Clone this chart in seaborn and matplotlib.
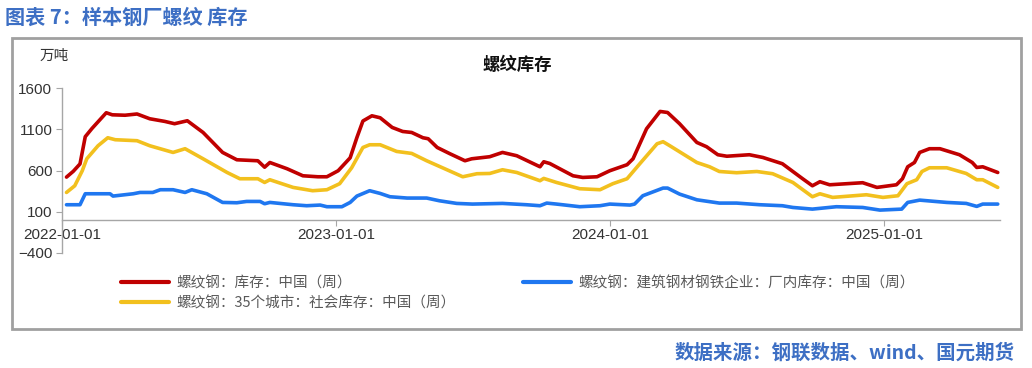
import pandas as pd
import seaborn as sns
import matplotlib.pyplot as plt
import matplotlib.dates as mdates
from matplotlib.patches import Rectangle

# 螺纹钢：库存：中国（周）
total_dates = ["2022-01-07", "2022-01-16", "2022-01-25", "2022-02-01", "2022-02-10", "2022-03-01",
               "2022-03-09", "2022-03-26", "2022-04-11", "2022-04-28", "2022-05-18", "2022-05-31",
               "2022-06-17", "2022-07-08", "2022-07-21", "2022-08-03", "2022-08-22", "2022-09-19",
               "2022-09-28", "2022-10-05", "2022-10-28", "2022-11-18", "2022-12-08", "2022-12-20",
               "2023-01-04", "2023-01-20", "2023-01-29", "2023-02-06", "2023-02-18", "2023-03-01",
               "2023-03-17", "2023-03-31", "2023-04-12", "2023-04-27", "2023-05-04", "2023-05-16",
               "2023-06-02", "2023-06-22", "2023-07-01", "2023-07-25", "2023-08-11", "2023-08-30",
               "2023-09-30", "2023-10-05", "2023-10-13", "2023-11-13", "2023-11-26", "2023-12-15",
               "2024-01-01", "2024-01-24", "2024-02-01", "2024-02-19", "2024-03-08", "2024-03-18",
               "2024-04-03", "2024-04-26", "2024-05-09", "2024-05-24", "2024-06-05", "2024-07-05",
               "2024-07-23", "2024-08-18", "2024-09-14", "2024-09-27", "2024-10-07", "2024-10-20",
               "2024-12-03", "2024-12-22", "2025-01-17", "2025-01-25", "2025-02-01", "2025-02-10",
               "2025-02-17", "2025-03-02", "2025-03-16", "2025-04-11", "2025-04-28", "2025-05-04",
               "2025-05-12", "2025-06-01"]
total_vals = [520, 590, 680, 1010, 1110, 1300, 1275, 1270, 1285, 1227, 1195, 1167,
              1203, 1061, 940, 819, 730, 718, 640, 697, 621, 536, 524, 524,
              597, 754, 1000, 1200, 1263, 1239, 1122, 1073, 1061, 997, 985, 879,
              803, 718, 742, 767, 819, 779, 645, 706, 685, 536, 516, 524,
              597, 670, 742, 1106, 1316, 1303, 1167, 940, 888, 791, 773, 791,
              758, 682, 500, 415, 464, 427, 452, 395, 427, 500, 645, 697,
              819, 864, 864, 791, 697, 637, 645, 576]

# 螺纹钢：建筑钢材钢铁企业：厂内库存：中国（周）
mill_dates = ["2022-01-07", "2022-01-25", "2022-02-01", "2022-03-06", "2022-03-10", "2022-04-06",
              "2022-04-15", "2022-05-02", "2022-05-12", "2022-05-29", "2022-06-14", "2022-06-23",
              "2022-07-13", "2022-08-03", "2022-08-22", "2022-09-04", "2022-09-22", "2022-09-28",
              "2022-10-05", "2022-11-05", "2022-11-23", "2022-12-11", "2022-12-20", "2023-01-09",
              "2023-01-20", "2023-01-29", "2023-02-15", "2023-03-01", "2023-03-14", "2023-04-06",
              "2023-05-02", "2023-05-19", "2023-06-11", "2023-07-02", "2023-08-11", "2023-09-12",
              "2023-09-30", "2023-10-09", "2023-10-22", "2023-11-22", "2023-12-19", "2024-01-01",
              "2024-01-28", "2024-02-03", "2024-02-14", "2024-03-12", "2024-03-18", "2024-04-03",
              "2024-04-26", "2024-05-26", "2024-06-18", "2024-07-19", "2024-08-18", "2024-09-01",
              "2024-09-27", "2024-10-29", "2024-12-03", "2024-12-26", "2025-01-24", "2025-02-01",
              "2025-02-17", "2025-03-25", "2025-04-20", "2025-05-04", "2025-05-12", "2025-06-01"]
mill_vals = [185, 185, 318, 318, 290, 318, 334, 334, 367, 367, 334, 367,
             318, 213, 209, 225, 225, 197, 213, 185, 173, 181, 161, 161,
             213, 290, 355, 322, 282, 266, 266, 233, 201, 193, 201, 185,
             173, 205, 193, 161, 173, 193, 181, 193, 294, 387, 387, 314,
             245, 205, 205, 185, 173, 152, 132, 161, 152, 120, 132, 213,
             241, 213, 201, 165, 193, 193]

# 螺纹钢：35个城市：社会库存：中国（周）
social_dates = ["2022-01-07", "2022-01-18", "2022-01-28", "2022-02-03", "2022-02-18", "2022-03-03",
                "2022-03-13", "2022-04-11", "2022-04-28", "2022-05-29", "2022-06-14", "2022-07-08",
                "2022-08-09", "2022-08-26", "2022-09-19", "2022-09-28", "2022-10-05", "2022-11-05",
                "2022-12-01", "2022-12-20", "2023-01-06", "2023-01-22", "2023-02-06", "2023-02-15",
                "2023-03-01", "2023-03-23", "2023-04-12", "2023-05-02", "2023-05-29", "2023-06-19",
                "2023-07-08", "2023-07-25", "2023-08-11", "2023-08-30", "2023-09-30", "2023-10-05",
                "2023-10-22", "2023-11-22", "2023-12-19", "2024-01-05", "2024-01-24", "2024-02-10",
                "2024-03-04", "2024-03-12", "2024-03-21", "2024-04-26", "2024-05-13", "2024-05-26",
                "2024-06-18", "2024-07-15", "2024-08-05", "2024-09-01", "2024-09-27", "2024-10-07",
                "2024-10-24", "2024-12-08", "2024-12-30", "2025-01-19", "2025-01-31", "2025-02-13",
                "2025-02-20", "2025-03-02", "2025-03-25", "2025-04-20", "2025-05-04", "2025-05-12",
                "2025-06-01"]
social_vals = [334, 415, 597, 742, 900, 997, 973, 961, 900, 819, 864, 742,
               576, 500, 500, 455, 488, 395, 355, 367, 440, 633, 879, 912,
               912, 831, 807, 718, 609, 524, 561, 564, 609, 576, 476, 504,
               455, 379, 367, 440, 500, 682, 924, 949, 900, 697, 645, 588,
               573, 588, 561, 455, 282, 318, 274, 306, 274, 294, 440, 488,
               588, 633, 633, 564, 488, 488, 395]

labels = ["螺纹钢：库存：中国（周）",
          "螺纹钢：35个城市：社会库存：中国（周）",
          "螺纹钢：建筑钢材钢铁企业：厂内库存：中国（周）"]
colors = ["#C00000", "#F2C01E", "#1F77F0"]
yticks = [-400, 100, 600, 1100, 1600]

df = pd.concat([
    pd.DataFrame({"date": pd.to_datetime(total_dates), "value": total_vals, "series": labels[0]}),
    pd.DataFrame({"date": pd.to_datetime(social_dates), "value": social_vals, "series": labels[1]}),
    pd.DataFrame({"date": pd.to_datetime(mill_dates), "value": mill_vals, "series": labels[2]}),
])

sns.set_style("white")
plt.rcParams['font.family'] = ['Noto Sans CJK SC', 'DejaVu Sans']

fig = plt.figure(figsize=(10.32, 3.68), dpi=100)
ax = fig.add_axes([62 / 1032, 1 - 253 / 368, 938 / 1032, 165 / 368])

sns.lineplot(data=df, x="date", y="value", hue="series", hue_order=labels,
             palette=colors, linewidth=2.6, ax=ax, legend=False)

ax.set_ylim(-400, 1600)
ax.set_yticks(yticks)
ax.set_xlim(pd.Timestamp("2022-01-01"), pd.Timestamp("2025-06-04"))
ax.xaxis.set_major_locator(mdates.YearLocator())
ax.xaxis.set_major_formatter(mdates.DateFormatter("%Y-%m-%d"))
ax.set_xlabel("")
ax.set_ylabel("")

# axes look: left spine with outward ticks, x axis line at zero
for s in ["top", "right"]:
    ax.spines[s].set_visible(False)
ax.spines["bottom"].set_position(("data", 0))
for s in ["left", "bottom"]:
    ax.spines[s].set_color("#a6a6a6")
    ax.spines[s].set_linewidth(1.0)
ax.tick_params(axis="y", left=True, direction="out", length=4, color="#a6a6a6",
               labelsize=11, labelcolor="#333333", pad=3)
ax.tick_params(axis="x", bottom=True, direction="out", length=4, color="#a6a6a6",
               labelsize=11, labelcolor="#333333", pad=2)
for t in ax.get_yticklabels() + ax.get_xticklabels():
    t.set_family("Liberation Sans")

# legend
handles = [plt.Line2D([], [], color=c, linewidth=3) for c in colors]
fig.legend(handles, labels, ncol=2, loc="upper left", bbox_to_anchor=(108 / 1032, 1 - 263 / 368),
           frameon=False, fontsize=10.5, handlelength=3.3, handletextpad=0.5,
           columnspacing=4.6, labelspacing=0.4, labelcolor="#595959")

# chart frame
fig.patches.append(Rectangle((12 / 1032, 1 - 329 / 368), 1009 / 1032, 291 / 368,
                             transform=fig.transFigure, fill=False,
                             edgecolor="#a0a0a0", linewidth=2))

fig.text(517 / 1032, 1 - 65 / 368, "螺纹库存", ha="center", va="center",
         fontsize=12.5, fontweight="bold", color="#111111")
fig.text(40 / 1032, 1 - 56 / 368, "万吨", ha="left", va="center", fontsize=10.5, color="#333333")

fig.text(5 / 1032, 1 - 17 / 368, "图表 7：样本钢厂螺纹 库存", ha="left", va="center",
         fontsize=14.5, fontweight="bold", color="#3D6FC4")
fig.text(1015 / 1032, 1 - 353 / 368, "数据来源：钢联数据、wind、国元期货", ha="right", va="center",
         fontsize=14, fontweight="bold", color="#3D6FC4")

fig.savefig("out.png", dpi=100)
